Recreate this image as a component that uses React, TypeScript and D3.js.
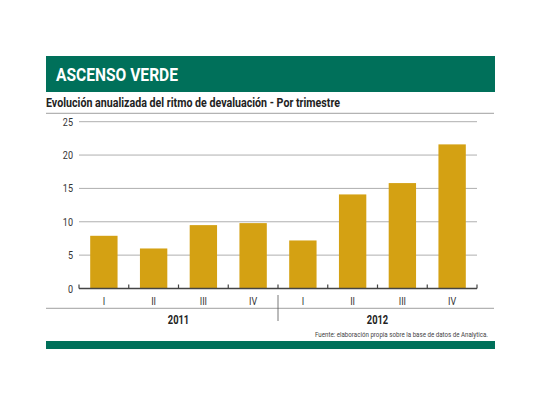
import { useEffect, useRef } from 'react';
import * as d3 from 'd3';

const quarters = ['I', 'II', 'III', 'IV', 'I', 'II', 'III', 'IV'];
const years = ['2011', '2012'];
const values = [7.9, 6.0, 9.5, 9.8, 7.2, 14.1, 15.8, 21.6];
const yTicks = [0, 5, 10, 15, 20, 25];

const GREEN = '#00705a';
const GOLD = '#d4a113';
const FONT = 'Roboto, "Liberation Sans", sans-serif';

export default function App() {
  const svgRef = useRef<SVGSVGElement>(null);
  const width = 540;
  const height = 405;

  useEffect(() => {
    if (!svgRef.current) return;
    const svg = d3.select(svgRef.current);
    svg.selectAll('*').remove();

    const left = 79;
    const right = 477;
    const top = 121.7;
    const bottom = 288.5;

    // squeeze text horizontally, the original uses a condensed face
    const narrow = (
      x: number, y: number, txt: string, size: number, anchor: string,
      weight: number, fill: string, sx = 0.82,
    ) => {
      svg.append('text')
        .attr('transform', `translate(${x},${y}) scale(${sx},1)`)
        .attr('text-anchor', anchor)
        .attr('fill', fill)
        .attr('font-family', FONT)
        .attr('font-weight', weight)
        .attr('font-size', size)
        .text(txt);
    };

    // header band
    svg.append('rect')
      .attr('x', 46).attr('y', 56).attr('width', 449).attr('height', 36)
      .attr('fill', GREEN);
    svg.append('text')
      .attr('x', 56).attr('y', 81)
      .attr('fill', '#fff')
      .attr('font-family', FONT)
      .attr('font-weight', 700)
      .attr('font-size', 19)
      .attr('textLength', 122)
      .attr('lengthAdjust', 'spacingAndGlyphs')
      .text('ASCENSO VERDE');

    svg.append('text')
      .attr('x', 46).attr('y', 107)
      .attr('fill', '#222')
      .attr('font-family', FONT)
      .attr('font-weight', 700)
      .attr('font-size', 12)
      .attr('textLength', 294)
      .attr('lengthAdjust', 'spacingAndGlyphs')
      .text('Evolución anualizada del ritmo de devaluación - Por trimestre');
    svg.append('line')
      .attr('x1', 46).attr('x2', 494).attr('y1', 113.3).attr('y2', 113.3)
      .attr('stroke', '#888').attr('stroke-width', 0.8);

    const idx = quarters.map((_, i) => String(i));
    const x = d3.scaleBand<string>().domain(idx).range([left, right]).paddingInner(0.45).paddingOuter(0.225);
    const xb = d3.scaleBand<string>().domain(idx).range([left, right]);
    const y = d3.scaleLinear().domain([0, 25]).range([bottom, top]);

    // grid + y labels
    yTicks.forEach(t => {
      if (t > 0) {
        svg.append('line')
          .attr('x1', left).attr('x2', right)
          .attr('y1', y(t)).attr('y2', y(t))
          .attr('stroke', '#9a9a9a').attr('stroke-width', 0.8);
      }
      narrow(73, y(t) + 4, String(t), 11, 'end', 400, '#333');
    });

    // bars
    svg.append('g').selectAll('rect')
      .data(values)
      .enter()
      .append('rect')
      .attr('x', (_, i) => x(String(i))!)
      .attr('width', x.bandwidth())
      .attr('y', d => y(d))
      .attr('height', d => y(0) - y(d))
      .attr('fill', GOLD);

    // baseline and ticks
    svg.append('line')
      .attr('x1', left).attr('x2', right).attr('y1', bottom).attr('y2', bottom)
      .attr('stroke', '#444').attr('stroke-width', 1.5);
    const tickXs = idx.map(i => xb(i)!).concat([right]);
    tickXs.forEach(tx => {
      svg.append('line')
        .attr('x1', tx).attr('x2', tx).attr('y1', bottom).attr('y2', bottom - 4)
        .attr('stroke', '#444').attr('stroke-width', 1.2);
    });

    // quarter labels
    quarters.forEach((q, i) => {
      narrow(xb(String(i))! + xb.bandwidth() / 2, 305, q, 11, 'middle', 400, '#333');
    });

    svg.append('line')
      .attr('x1', 46).attr('x2', 494).attr('y1', 308.3).attr('y2', 308.3)
      .attr('stroke', '#888').attr('stroke-width', 0.8);

    const sepX = xb('4')!;
    svg.append('line')
      .attr('x1', sepX).attr('x2', sepX).attr('y1', 295).attr('y2', 321)
      .attr('stroke', '#555').attr('stroke-width', 0.8);

    years.forEach((yr, k) => {
      const x0 = xb(String(k * 4))!;
      const x1 = xb(String(k * 4 + 3))! + xb.bandwidth();
      narrow((x0 + x1) / 2, 324, yr, 12, 'middle', 700, '#222', 0.78);
    });

    svg.append('text')
      .attr('x', 315).attr('y', 337)
      .attr('fill', '#444')
      .attr('font-family', FONT)
      .attr('font-size', 7.5)
      .attr('textLength', 173)
      .attr('lengthAdjust', 'spacingAndGlyphs')
      .text('Fuente: elaboración propia sobre la base de datos de Analytica.');

    svg.append('rect')
      .attr('x', 46).attr('y', 341).attr('width', 449).attr('height', 8)
      .attr('fill', GREEN);
  }, []);

  return (
    <svg
      ref={svgRef}
      width={width}
      height={height}
      style={{ position: 'absolute', left: 0, top: 0, background: '#fff' }}
    />
  );
}
